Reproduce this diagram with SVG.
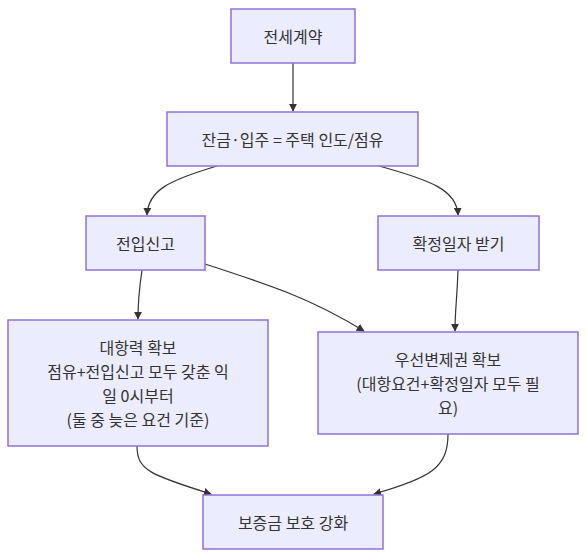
<svg xmlns="http://www.w3.org/2000/svg" width="586" height="558" viewBox="0 0 586 558">
<style>
.node rect{fill:#ECECFF;stroke:#9370DB;stroke-width:1.5}
.node text{font-family:"Noto Sans CJK KR","Liberation Sans",sans-serif;font-size:16px;fill:#333333;text-anchor:middle;dominant-baseline:central}
.edges path{fill:none;stroke:#333333;stroke-width:1.2}
</style>
<defs>
<marker id="arr" viewBox="0 0 10 10" refX="9" refY="5" markerWidth="8" markerHeight="8" orient="auto" markerUnits="userSpaceOnUse">
<path d="M0,0 L10,5 L0,10 z" fill="#333333"/>
</marker>
</defs>
<rect width="586" height="558" fill="#ffffff"/>
<g class="edges">
<path d="M293,63 L293,111" marker-end="url(#arr)"/>
<path d="M217,166 C170,180 148,190 147,215" marker-end="url(#arr)"/>
<path d="M379,166 C430,180 457,190 458,215" marker-end="url(#arr)"/>
<path d="M142,270 C139,290 138,300 138,319" marker-end="url(#arr)"/>
<path d="M205,264 C270,285 310,298 364,331" marker-end="url(#arr)"/>
<path d="M458,270 C457,300 455,310 455,331" marker-end="url(#arr)"/>
<path d="M137,446 C137,470 150,475 211,494" marker-end="url(#arr)"/>
<path d="M448,434 C448,468 430,478 374,494" marker-end="url(#arr)"/>
</g>
<g class="node" id="n1"><rect x="231" y="9" width="124" height="54"/><text x="293" y="36">전세계약</text></g>
<g class="node" id="n2"><rect x="167" y="112" width="251" height="54"/><text x="292.5" y="139">잔금·입주 = 주택 인도/점유</text></g>
<g class="node" id="n3"><rect x="86" y="216" width="119" height="54"/><text x="145.5" y="243">전입신고</text></g>
<g class="node" id="n4"><rect x="378" y="216" width="161" height="54"/><text x="458.5" y="243">확정일자 받기</text></g>
<g class="node" id="n5"><rect x="8" y="320" width="260" height="126"/>
<text x="138" y="347">대항력 확보</text>
<text x="138" y="371">점유+전입신고 모두 갖춘 익</text>
<text x="138" y="395">일 0시부터</text>
<text x="138" y="419">(둘 중 늦은 요건 기준)</text></g>
<g class="node" id="n6"><rect x="318" y="332" width="260" height="102"/>
<text x="448" y="359">우선변제권 확보</text>
<text x="448" y="383">(대항요건+확정일자 모두 필</text>
<text x="448" y="407">요)</text></g>
<g class="node" id="n7"><rect x="203" y="495" width="180" height="54"/><text x="293" y="522">보증금 보호 강화</text></g>
</svg>
